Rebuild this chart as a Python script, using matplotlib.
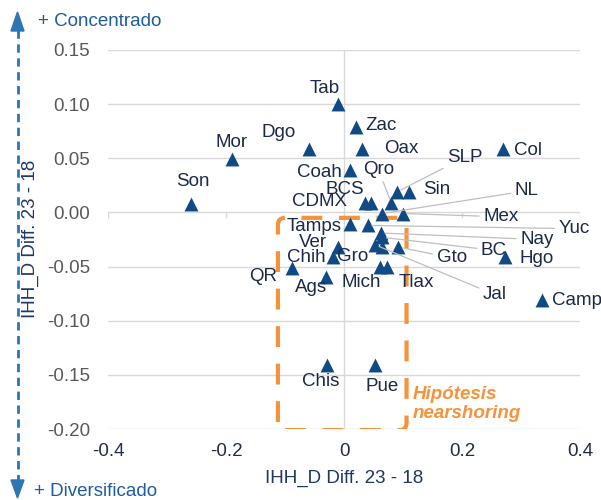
import matplotlib
matplotlib.use("Agg")
import matplotlib.pyplot as plt
from matplotlib.patches import FancyBboxPatch, Polygon
from matplotlib.lines import Line2D

plt.rcParams['font.family'] = ['Liberation Sans', 'DejaVu Sans']
plt.rcParams['axes.unicode_minus'] = False

# ---- data ----
states = ["Son", "Mor", "Dgo", "Tab", "Zac", "Oax", "Col", "Coah", "Qro", "SLP",
          "Sin", "CDMX", "BCS", "NL", "Mex", "Tamps", "Yuc", "Nay", "BC", "Jal",
          "Gro", "Gto", "Hgo", "Ver", "Chih", "QR", "Ags", "Mich", "Tlax", "Camp",
          "Chis", "Pue"]
diff_x = [-0.26, -0.19, -0.06, -0.01, 0.02, 0.03, 0.27, 0.01, 0.08, 0.09,
          0.11, 0.035, 0.045, 0.065, 0.10, 0.01, 0.04, 0.063, 0.065, 0.053,
          0.064, 0.092, 0.273, -0.01, -0.019, -0.088, -0.03, 0.061, 0.073, 0.336,
          -0.029, 0.053]
diff_y = [0.008, 0.049, 0.059, 0.100, 0.079, 0.059, 0.059, 0.039, 0.009, 0.019,
          0.019, 0.009, 0.009, -0.001, -0.001, -0.011, -0.012, -0.019, -0.023, -0.030,
          -0.032, -0.032, -0.041, -0.032, -0.041, -0.051, -0.060, -0.050, -0.050, -0.081,
          -0.141, -0.141]
x_ticks = [-0.4, -0.2, 0.0, 0.2, 0.4]
x_tick_labels = ["-0.4", "-0.2", "0", "0.2", "0.4"]
y_ticks = [0.15, 0.10, 0.05, 0.00, -0.05, -0.10, -0.15, -0.20]
y_tick_labels = ["0.15", "0.10", "0.05", "0.00", "-0.05", "-0.10", "-0.15", "-0.20"]
axis_title = "IHH_D Diff. 23 - 18"
hyp_text = "Hipótesis\nnearshoring"

# ---- label placement (layout only) ----
label_pos = {
    "Tab": (-0.032, 0.114, 'center'), "Zac": (0.063, 0.080, 'center'),
    "Dgo": (-0.110, 0.074, 'center'), "Mor": (-0.190, 0.065, 'center'),
    "Son": (-0.256, 0.029, 'center'), "Oax": (0.097, 0.059, 'center'),
    "Col": (0.312, 0.057, 'center'), "Coah": (-0.041, 0.037, 'center'),
    "BCS": (0.002, 0.021, 'center'), "CDMX": (-0.041, 0.010, 'center'),
    "Sin": (0.158, 0.021, 'center'), "Hgo": (0.327, -0.043, 'center'),
    "Tamps": (-0.051, -0.013, 'center'), "Ver": (-0.053, -0.028, 'center'),
    "Chih": (-0.064, -0.042, 'center'), "Gro": (0.015, -0.041, 'center'),
    "QR": (-0.137, -0.059, 'center'), "Ags": (-0.056, -0.069, 'center'),
    "Mich": (0.029, -0.065, 'center'), "Tlax": (0.122, -0.065, 'center'),
    "Camp": (0.352, -0.081, 'left'), "Chis": (-0.039, -0.156, 'center'),
    "Pue": (0.064, -0.161, 'center'),
    # with leader lines
    "Qro": (0.058, 0.040, 'center'), "SLP": (0.205, 0.051, 'center'),
    "NL": (0.310, 0.020, 'center'), "Mex": (0.266, -0.004, 'center'),
    "Yuc": (0.390, -0.015, 'center'), "Nay": (0.327, -0.025, 'center'),
    "BC": (0.254, -0.035, 'center'), "Gto": (0.183, -0.042, 'center'),
    "Jal": (0.256, -0.076, 'center'),
}
leader = {"Qro", "SLP", "NL", "Mex", "Yuc", "Nay", "BC", "Gto", "Jal"}

W, H = 601, 500
FS = 13.5
fig = plt.figure(figsize=(W / 100, H / 100), dpi=100)
ax = fig.add_axes([108 / W, 1 - 429 / H, (580 - 108) / W, (429 - 50) / H])

marker_col = '#0F4A85'
label_col = '#1B2A4A'
grid_col = '#D9D9D9'

ax.set_xlim(-0.4, 0.4)
ax.set_ylim(-0.2, 0.15)
ax.set_xticks(x_ticks)
ax.set_xticklabels(x_tick_labels, color='#1F2D4A', fontsize=FS)
ax.set_yticks(y_ticks)
ax.set_yticklabels(y_tick_labels, color='#595959', fontsize=FS)
ax.tick_params(axis='both', length=0)
ax.tick_params(axis='x', pad=10)
ax.tick_params(axis='y', pad=13)
for s in ax.spines.values():
    s.set_visible(False)
ax.yaxis.grid(True, color=grid_col, lw=1.0)
ax.xaxis.grid(False)
ax.set_axisbelow(True)
ax.axvline(0, color=grid_col, lw=1.0, zorder=0.5)
ax.vlines(x_ticks, -0.0048, 0, color=grid_col, lw=1.0, zorder=0.5)

# hypothesis box
box = FancyBboxPatch((-0.112, -0.201), 0.218, 0.196,
                     boxstyle='round,pad=0,rounding_size=0.012',
                     mutation_aspect=0.55, fill=False, edgecolor='#F7923A',
                     lw=3.0, linestyle=(0, (5, 4)), zorder=2)
box.set_capstyle('butt')
ax.add_patch(box)
ax.text(0.117, -0.177, hyp_text, color='#F7923A', fontsize=FS,
        fontweight='bold', fontstyle='italic', ha='left', va='center',
        linespacing=1.1, zorder=4)

ax.scatter(diff_x, diff_y, marker='^', s=100, color=marker_col, zorder=3,
           linewidths=0)

for name, x, y in zip(states, diff_x, diff_y):
    lx, ly, ha = label_pos[name]
    if name in leader:
        ax.annotate(name, xy=(x, y), xytext=(lx, ly), textcoords='data',
                    ha=ha, va='center', fontsize=FS, color=label_col, zorder=4,
                    arrowprops=dict(arrowstyle='-', color='#BFBFBF', lw=0.9,
                                    shrinkA=1, shrinkB=3))
    else:
        ax.text(lx, ly, name, ha=ha, va='center', fontsize=FS,
                color=label_col, zorder=4)

# axis titles
fig.text(344 / W, 1 - 478 / H, axis_title, ha='center', va='center',
         fontsize=FS, color='#1F3864')
fig.text(30 / W, 1 - 239 / H, axis_title, ha='center', va='center',
         rotation=90, fontsize=FS, color='#1F3864')

# dashed double arrow on left
ax_x = 17.5 / W
arrow_col = '#2E75B6'
fig.add_artist(Line2D([ax_x, ax_x], [1 - 30 / H, 1 - 482 / H],
                      transform=fig.transFigure, color=arrow_col, lw=2.0,
                      linestyle=(0, (3, 2))))
hw = 6.5 / W
fig.add_artist(Polygon([[ax_x, 1 - 12 / H], [ax_x - hw, 1 - 31 / H], [ax_x + hw, 1 - 31 / H]],
                       closed=True, transform=fig.transFigure, color=arrow_col))
fig.add_artist(Polygon([[ax_x, 1 - 498 / H], [ax_x - hw, 1 - 480 / H], [ax_x + hw, 1 - 480 / H]],
                       closed=True, transform=fig.transFigure, color=arrow_col))
fig.text(38 / W, 1 - 21 / H, "+ Concentrado", ha='left', va='center',
         fontsize=FS, color='#1E5C9E')
fig.text(34 / W, 1 - 492 / H, "+ Diversificado", ha='left', va='center',
         fontsize=FS, color='#1E5C9E')

fig.savefig("out.png", dpi=100)
